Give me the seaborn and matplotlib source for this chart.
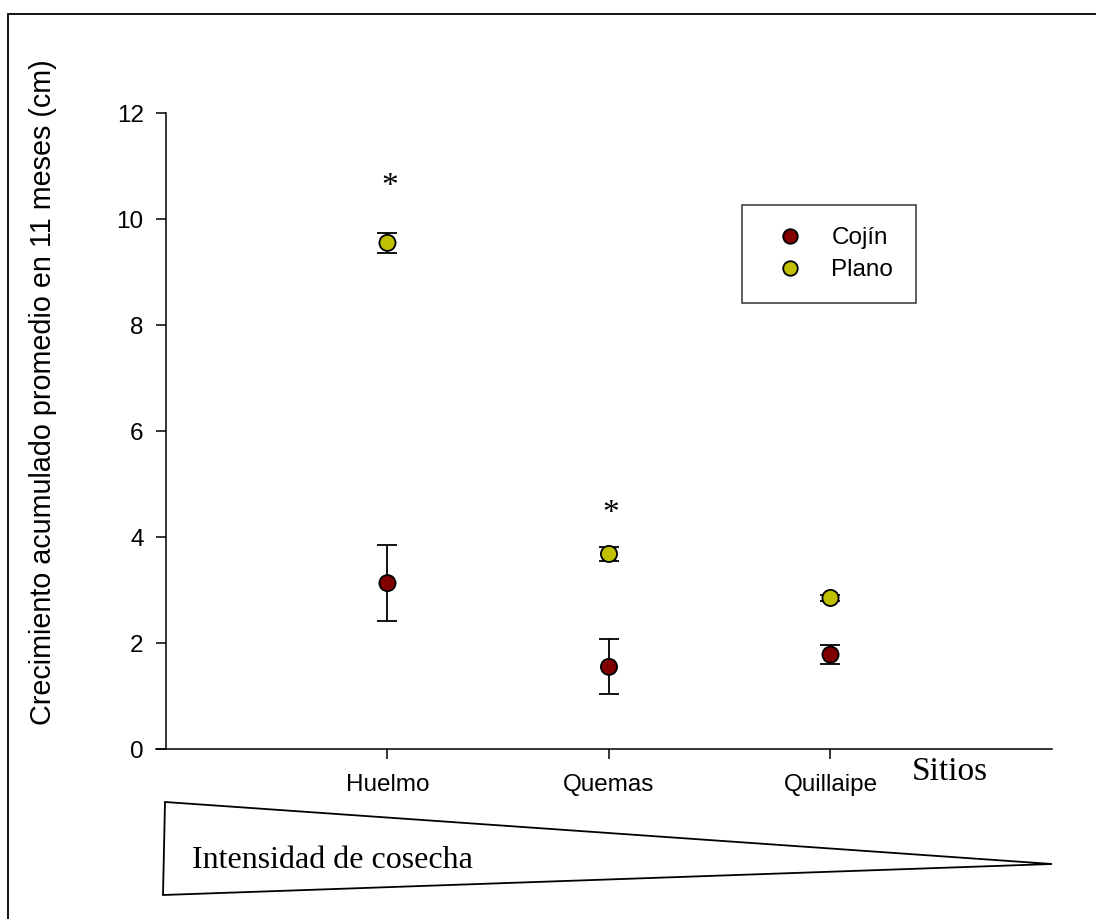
import numpy as np
import pandas as pd
import matplotlib
matplotlib.use("Agg")
import matplotlib.pyplot as plt
from matplotlib.patches import Polygon, Rectangle
import seaborn as sns

# values
sitios = ["Huelmo", "Quemas", "Quillaipe"]
cojin_mean = [3.13, 1.55, 1.78]
cojin_err = [0.71, 0.52, 0.18]
plano_mean = [9.55, 3.68, 2.85]
plano_err = [0.19, 0.13, 0.05]
asterisk_y = [10.6, 4.43]

colors = {"Cojín": "#800000", "Plano": "#c0c000"}

df = pd.DataFrame({
    "pos": [1, 2, 3] * 2,
    "sitio": sitios * 2,
    "forma": ["Cojín"] * 3 + ["Plano"] * 3,
    "media": cojin_mean + plano_mean,
    "err": cojin_err + plano_err,
})

sns.set_style("white")
plt.rcParams["font.family"] = ["Liberation Sans", "DejaVu Sans"]
for k in ["text.color", "axes.labelcolor", "xtick.color", "ytick.color"]:
    plt.rcParams[k] = "black"

serif = ["Liberation Serif", "DejaVu Serif"]

W, H = 1096, 919
fig = plt.figure(figsize=(W / 100, H / 100), dpi=100)
ax = fig.add_axes([156 / W, 1 - 749 / H, (1052 - 156) / W, (749 - 113) / H])

# error bars first, markers on top
ax.errorbar(df["pos"], df["media"], yerr=df["err"], fmt="none",
            ecolor="black", elinewidth=1.3, capsize=7, capthick=1.3, zorder=2)
sns.scatterplot(data=df, x="pos", y="media", hue="forma", palette=colors,
                s=135, edgecolor="black", linewidth=1.3, zorder=3, ax=ax)

# asterisks
for i, yv in enumerate(asterisk_y):
    ax.text(i + 1.01, yv, "*", ha="center", va="center", fontsize=24, family=serif)

ax.set_xlim(-0.045, 4.0)
ax.set_ylim(0, 12)
ax.set_xticks([1, 2, 3])
ax.set_xticklabels(sitios)
ax.set_yticks(np.arange(0, 13, 2))
ax.tick_params(axis="both", direction="out", length=7, width=1.1,
               labelsize=17.5, color="black", pad=9, bottom=True, left=True)
ax.tick_params(axis="x", pad=11)
ax.set_xlabel("")
ax.set_ylabel("Crecimiento acumulado promedio en 11 meses (cm)", fontsize=20.7)
ax.yaxis.set_label_coords(-0.11, 0.561)

sns.despine(ax=ax)
ax.spines["left"].set_position(("data", 0))
for s in ["left", "bottom"]:
    ax.spines[s].set_color("black")
    ax.spines[s].set_linewidth(1.1)

leg = ax.legend(title=None, loc="upper left",
                bbox_to_anchor=(742 / W, 1 - 205 / H), bbox_transform=fig.transFigure,
                borderaxespad=0, fontsize=17.5, frameon=True, fancybox=False,
                borderpad=0.92, handletextpad=0.66, labelspacing=0.4,
                markerscale=0.9, handlelength=2.1)
leg.get_frame().set_edgecolor("black")
leg.get_frame().set_linewidth(1.1)

fig.text(912 / W, 1 - 772 / H, "Sitios", fontsize=24, va="center", ha="left",
         family=serif)

# harvest intensity wedge
tri = Polygon([(165 / W, 1 - 802 / H), (1052 / W, 1 - 864 / H), (163 / W, 1 - 895 / H)],
              closed=True, fill=False, edgecolor="black", linewidth=1.3,
              transform=fig.transFigure)
fig.add_artist(tri)
fig.text(192 / W, 1 - 860 / H, "Intensidad de cosecha", fontsize=23, va="center",
         ha="left", family=serif)

# outer frame (right and bottom sides fall outside the picture)
frame = Rectangle((8 / W, -0.1), 1.2, 1 - 14 / H + 0.1, fill=False,
                  edgecolor="black", linewidth=1.3, transform=fig.transFigure)
fig.add_artist(frame)

fig.savefig("out.png", dpi=100)
